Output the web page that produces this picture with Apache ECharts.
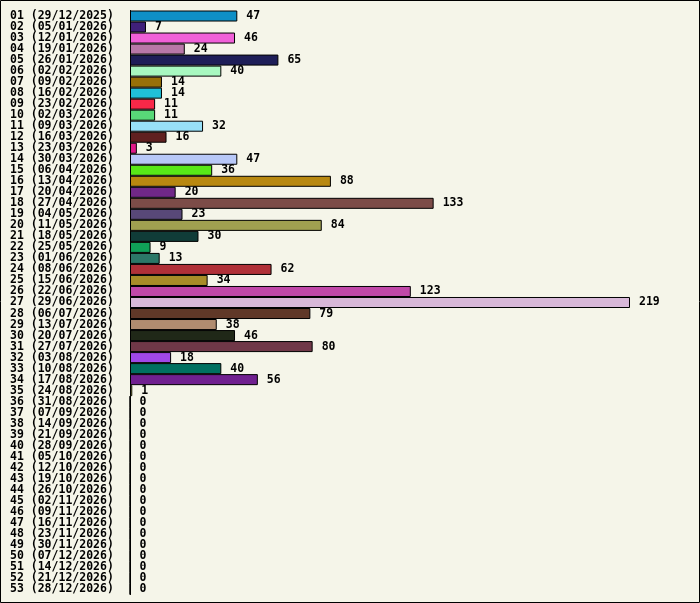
<!DOCTYPE html>
<html>
<head>
<meta charset="utf-8">
<script src="https://cdn.jsdelivr.net/npm/echarts@6/dist/echarts.min.js"></script>
<style>
  html, body { margin: 0; padding: 0; background: #f5f5e9; }
  #chart { width: 700px; height: 603px; }
</style>
</head>
<body>
<div id="chart"></div>
<script>
// weeks of the year, label = week no + monday date
var weeks = ['01','02','03','04','05','06','07','08','09','10','11','12','13','14','15','16','17','18',
  '19','20','21','22','23','24','25','26','27','28','29','30','31','32','33','34','35','36',
  '37','38','39','40','41','42','43','44','45','46','47','48','49','50','51','52','53'];
var dates = ['29/12/2025','05/01/2026','12/01/2026','19/01/2026','26/01/2026','02/02/2026','09/02/2026',
  '16/02/2026','23/02/2026','02/03/2026','09/03/2026','16/03/2026','23/03/2026','30/03/2026','06/04/2026',
  '13/04/2026','20/04/2026','27/04/2026','04/05/2026','11/05/2026','18/05/2026','25/05/2026','01/06/2026',
  '08/06/2026','15/06/2026','22/06/2026','29/06/2026','06/07/2026','13/07/2026','20/07/2026','27/07/2026',
  '03/08/2026','10/08/2026','17/08/2026','24/08/2026','31/08/2026','07/09/2026','14/09/2026','21/09/2026',
  '28/09/2026','05/10/2026','12/10/2026','19/10/2026','26/10/2026','02/11/2026','09/11/2026','16/11/2026',
  '23/11/2026','30/11/2026','07/12/2026','14/12/2026','21/12/2026','28/12/2026'];
var counts = [47,7,46,24,65,40,14,14,11,11,32,16,3,47,36,88,20,133,23,84,30,9,13,62,34,123,219,79,38,46,80,18,40,56,1,
  0,0,0,0,0,0,0,0,0,0,0,0,0,0,0,0,0,0];
var barColors = ['#0e8fc6','#40207a','#f060d8','#b878a8','#1e1e58','#a8f8c0','#987008','#20c0d8','#f82848',
  '#58d878','#98e0f8','#602020','#e01888','#b8c8f8','#58e818','#b88810','#702888','#7c4c48','#584878',
  '#a0a050','#103c38','#10a058','#2c7868','#b03038','#a88c28','#c048a8','#d8b8d8','#603828','#b08c70',
  '#202818','#703848','#a048e8','#007060','#702090','#c8c840'];

var categories = [];
for (var i = 0; i < weeks.length; i++) {
  categories.push(weeks[i] + ' (' + dates[i] + ')');
}
var barData = [];
for (var i = 0; i < counts.length; i++) {
  barData.push({
    value: counts[i],
    itemStyle: { color: barColors[i] || '#888888' }
  });
}

var font = '"DejaVu Sans Mono", monospace';
var chart = echarts.init(document.getElementById('chart'));
var option = {
  backgroundColor: '#f5f5e9',
  animation: false,
  graphic: [{
    type: 'rect',
    shape: { x: 0.5, y: 0.5, width: 699, height: 602 },
    style: { fill: 'none', stroke: '#000', lineWidth: 1 }
  }],
  grid: { left: 130, right: 70, top: 10.5, bottom: 8.5, containLabel: false },
  xAxis: {
    type: 'value',
    min: 0,
    max: 219,
    show: false
  },
  yAxis: {
    type: 'category',
    inverse: true,
    data: categories,
    axisLine: { show: true, lineStyle: { color: '#000', width: 1 } },
    axisTick: { show: false },
    axisLabel: {
      interval: 0,
      align: 'left',
      margin: 120,
      color: '#000',
      fontFamily: font,
      fontWeight: 'bold',
      fontSize: 11.5
    }
  },
  series: [{
    type: 'bar',
    data: barData,
    barCategoryGap: '0%',
    itemStyle: { borderColor: '#000', borderWidth: 1 },
    label: {
      show: true,
      position: 'right',
      distance: 9,
      color: '#000',
      fontFamily: font,
      fontWeight: 'bold',
      fontSize: 11.5
    }
  }]
};
chart.setOption(option);
</script>
</body>
</html>
